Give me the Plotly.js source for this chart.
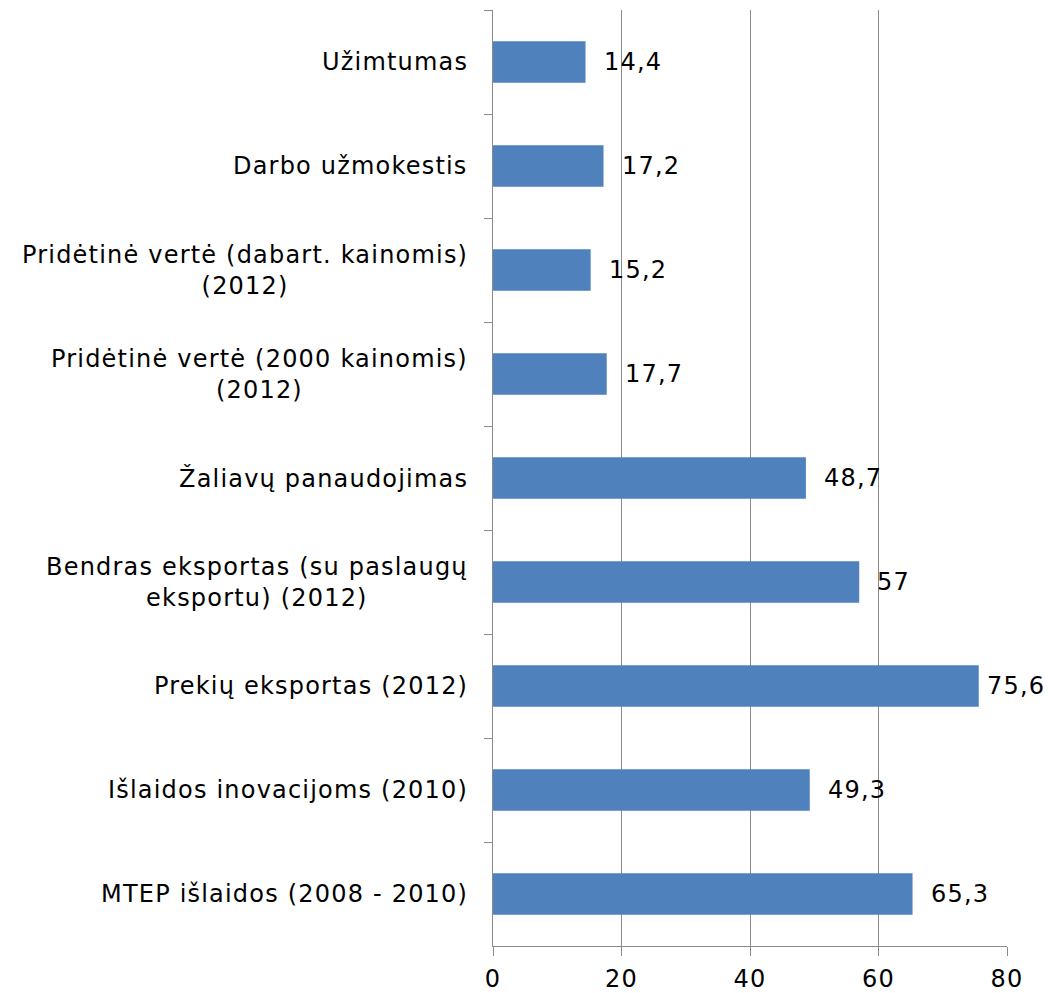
<!DOCTYPE html>
<html>
<head>
<meta charset="utf-8">
<script src="https://cdn.plot.ly/plotly-3.0.1.min.js"></script>
<style>
html,body{margin:0;padding:0;background:#fff;}
#chart{width:1048px;height:993px;}
svg text{letter-spacing:1.2px;}
</style>
</head>
<body>
<div id="chart"></div>
<script>
const categories = [
  "Užimtumas",
  "Darbo užmokestis",
  "Pridėtinė vertė (dabart. kainomis)<br>(2012)",
  "Pridėtinė vertė (2000 kainomis)<br>(2012)",
  "Žaliavų panaudojimas",
  "Bendras eksportas (su paslaugų<br>eksportu) (2012)",
  "Prekių eksportas (2012)",
  "Išlaidos inovacijoms (2010)",
  "MTEP išlaidos (2008 - 2010)"
];
const values = [14.4, 17.2, 15.2, 17.7, 48.7, 57, 75.6, 49.3, 65.3];
const xTickVals = [0, 20, 40, 60, 80];

const fmt = v => String(v).replace('.', ',');
const font = {family: '"DejaVu Sans", Verdana, sans-serif', size: 24, color: '#000'};

const trace = {
  type: 'bar',
  orientation: 'h',
  x: values,
  y: categories,
  marker: {color: '#4F81BD'},
  width: 0.4,
  hoverinfo: 'none'
};

// labels near the right edge are pulled closer to their bar so they fit
const valueLabels = values.map((v, i) => ({
  x: v, y: categories[i], xref: 'x', yref: 'y',
  text: fmt(v), showarrow: false, xanchor: 'left', yanchor: 'middle',
  xshift: v > 72 ? 6 : 16, yshift: 0, font: font
}));

const catLabels = categories.map(c => ({
  x: 0, y: c, xref: 'paper', yref: 'y',
  text: c, showarrow: false, xanchor: 'right', yanchor: 'middle',
  align: 'center', xshift: -23, font: font
}));

const layout = {
  width: 1048, height: 993,
  margin: {l: 493, r: 41, t: 10, b: 47},
  paper_bgcolor: '#fff', plot_bgcolor: '#fff',
  showlegend: false,
  font: font,
  xaxis: {
    range: [0, 80], tickvals: xTickVals, ticktext: xTickVals.map(String),
    showgrid: true, gridcolor: '#8a8a8a', gridwidth: 1,
    showline: true, linecolor: '#8a8a8a', linewidth: 1,
    ticks: 'outside', ticklen: 9, tickcolor: '#8a8a8a',
    zeroline: false, tickfont: font, ticklabelstandoff: 2
  },
  yaxis: {
    type: 'category', autorange: 'reversed',
    tickson: 'boundaries', ticks: 'outside', ticklen: 8, tickcolor: '#8a8a8a',
    showline: true, linecolor: '#8a8a8a', linewidth: 1,
    showgrid: false, zeroline: false, showticklabels: false
  },
  annotations: valueLabels.concat(catLabels)
};

Plotly.newPlot('chart', [trace], layout, {displayModeBar: false, staticPlot: true});
</script>
</body>
</html>
